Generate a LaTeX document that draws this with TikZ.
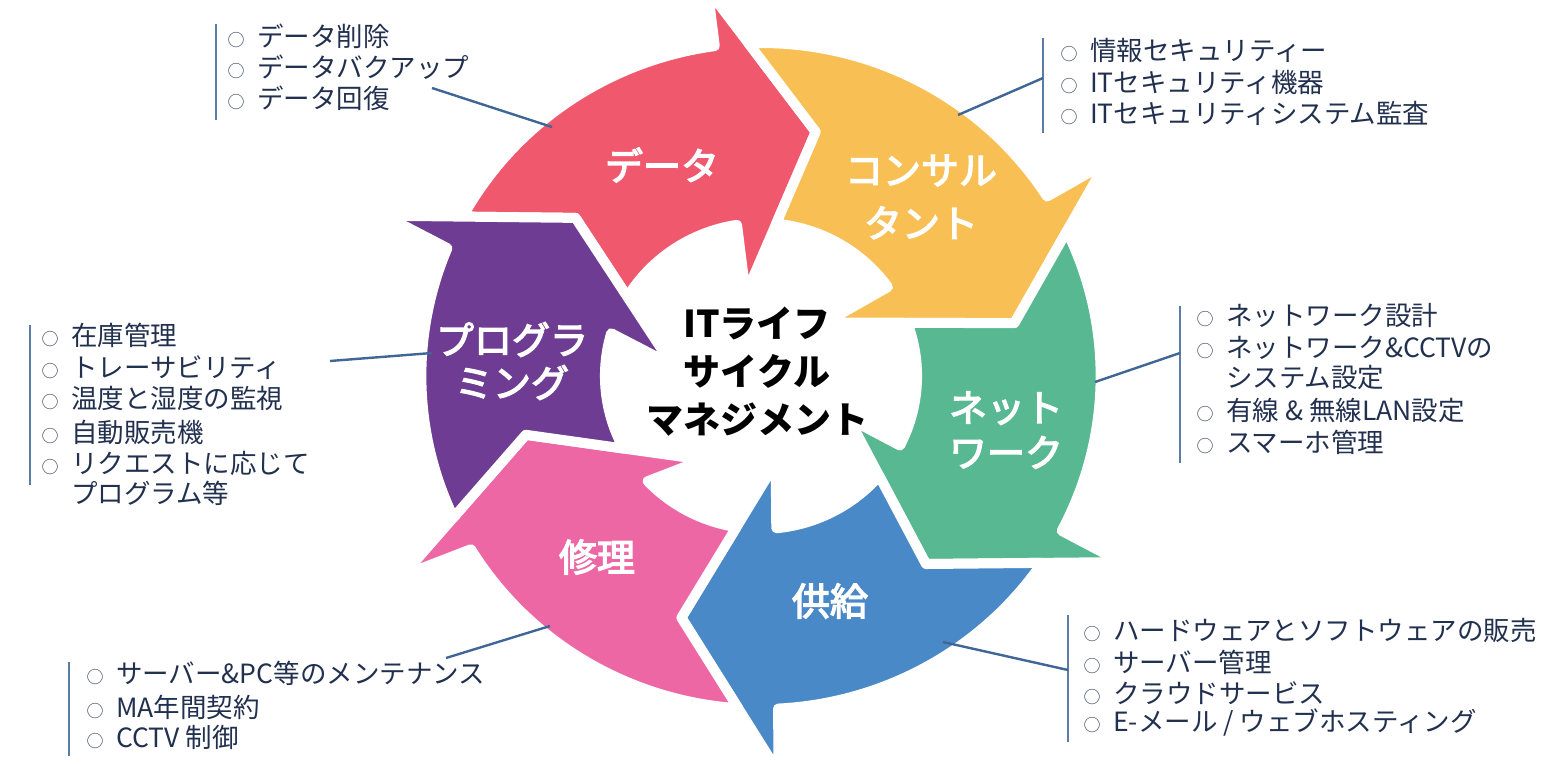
\documentclass[tikz,border=0pt]{standalone}
\usepackage{fontspec}
\setmainfont{Noto Sans CJK JP}
\newfontfamily\labfont{Noto Sans CJK JP}[FakeBold=3.5]
\definecolor{cred}{HTML}{F0586E}
\definecolor{cyel}{HTML}{F8BF55}
\definecolor{cgrn}{HTML}{58B891}
\definecolor{cblu}{HTML}{4A89C8}
\definecolor{cpnk}{HTML}{EC67A4}
\definecolor{cpur}{HTML}{6E3C92}
\definecolor{navy}{HTML}{22304F}
\definecolor{bulc}{HTML}{3E4862}
\definecolor{leadc}{HTML}{3F6696}
\definecolor{barc}{HTML}{5A7DA6}
% angle of the point where the line (#1:#2)--(#3:#4) meets the circle of radius #5
\newcommand\lineCircle[6]{%
  \pgfmathsetmacro\lcR{(#2)/100}%
  \pgfmathsetmacro\lcQ{(#4)/100}%
  \pgfmathsetmacro\lcC{(#5)/100}%
  \pgfmathsetmacro\lcdx{\lcQ*cos((#3)-(#1))-\lcR}%
  \pgfmathsetmacro\lcdy{\lcQ*sin((#3)-(#1))}%
  \pgfmathsetmacro\lcA{\lcdx*\lcdx+\lcdy*\lcdy}%
  \pgfmathsetmacro\lcB{2*\lcR*\lcdx}%
  \pgfmathsetmacro\lcK{\lcR*\lcR-\lcC*\lcC}%
  \pgfmathsetmacro\lcT{(-\lcB+(#6)*sqrt(\lcB*\lcB-4*\lcA*\lcK))/(2*\lcA)}%
  \pgfmathsetmacro\lcang{(#1)+atan2(\lcT*\lcdy,\lcR+\lcT*\lcdx)}}
% arrow data: id, tip angle, tip radius, outer wing angle, radius, inner wing angle, radius
\newcommand\defarrow[7]{%
  \expandafter\def\csname aT#1\endcsname{#2}%
  \expandafter\def\csname aRt#1\endcsname{#3}%
  \expandafter\def\csname aO#1\endcsname{#4}%
  \expandafter\def\csname aRo#1\endcsname{#5}%
  \expandafter\def\csname aI#1\endcsname{#6}%
  \expandafter\def\csname aRi#1\endcsname{#7}}
\defarrow{red}{77.6}{250}{97.7}{390}{100.4}{83}
\defarrow{yel}{12.0}{254}{32.2}{399}{40.2}{83}
\defarrow{grn}{-49.3}{248}{-27.8}{399}{-26.3}{96}
\defarrow{blu}{-107.9}{254}{-87.5}{397}{-80.6}{88}
\defarrow{pnk}{194.3}{238}{209.6}{404}{236.0}{101}
\defarrow{pur}{139.0}{241}{156.5}{402}{172.7}{88}
% #1 this arrow, #2 the arrow whose head enters this tail, #3 colour
\newcommand\ringarrow[3]{%
  \edef\myT{\csname aT#1\endcsname}\edef\myRt{\csname aRt#1\endcsname}%
  \edef\myO{\csname aO#1\endcsname}\edef\myRo{\csname aRo#1\endcsname}%
  \edef\myI{\csname aI#1\endcsname}\edef\myRi{\csname aRi#1\endcsname}%
  \edef\pvT{\csname aT#2\endcsname}\edef\pvRt{\csname aRt#2\endcsname}%
  \edef\pvO{\csname aO#2\endcsname}\edef\pvRo{\csname aRo#2\endcsname}%
  \edef\pvI{\csname aI#2\endcsname}\edef\pvRi{\csname aRi#2\endcsname}%
  \pgfmathsetmacro\pvS{ifthenelse(\pvT<\myT,360,0)}%
  \pgfmathsetmacro\pvT{\pvT+\pvS}%
  \pgfmathsetmacro\pvO{\pvO+\pvS}%
  \pgfmathsetmacro\pvI{\pvI+\pvS}%
  \lineCircle{\myO}{\myRo}{\myI}{\myRi}{333}{-1}\let\soA\lcang
  \lineCircle{\myI}{\myRi}{\myO}{\myRo}{153}{1}\let\siA\lcang
  \lineCircle{\pvT}{\pvRt}{\pvO}{\pvRo}{333}{1}\let\coA\lcang
  \lineCircle{\pvT}{\pvRt}{\pvI}{\pvRi}{153}{-1}\let\ciA\lcang
  \filldraw[fill=#3, draw=white, line width=10pt, line join=round]
    (\myT:\myRt) -- (\myO:\myRo) -- (\soA:333)
    arc[start angle=\soA, end angle=\coA, radius=333]
    -- (\pvT:\pvRt) -- (\ciA:153)
    arc[start angle=\ciA, end angle=\siA, radius=153]
    -- (\myI:\myRi) -- cycle;}
\newcommand\bl{\makebox[29.5pt][l]{\fontsize{17}{17}\selectfont\textcolor{bulc}{○}}}
\newcommand\blx{\makebox[29.5pt][l]{}}
\begin{document}
\begin{tikzpicture}[x=1pt,y=-1pt,
  li/.style={anchor=west, inner sep=0pt, text=navy, font=\fontsize{26.5}{26.5}\selectfont},
  lab/.style={text=white, align=center, inner sep=0pt},
  barline/.style={draw=barc, line width=2.6pt},
  leader/.style={draw=leadc, line width=2.4pt}]
\useasboundingbox (0,0) rectangle (1548,764);
\begin{scope}[shift={(761,376)}, xscale=1.02, yscale=-1]
  \ringarrow{red}{pur}{cred}
  \ringarrow{yel}{red}{cyel}
  \ringarrow{grn}{yel}{cgrn}
  \ringarrow{blu}{grn}{cblu}
  \ringarrow{pnk}{blu}{cpnk}
  \ringarrow{pur}{pnk}{cpur}
\end{scope}
% arrow labels
\node[lab, font={\labfont\fontsize{38}{53}\selectfont}] (tdata) at (662,165) {データ};
\node[lab, font={\labfont\fontsize{38}{53}\selectfont}] (tcons) at (921,197) {コンサル\\タント};
\node[lab, font={\labfont\fontsize{38}{45}\selectfont}] (tnet) at (1006,430) {ネット\\ワーク};
\node[lab, font={\labfont\fontsize{38}{45}\selectfont}] (tsup) at (830,601) {供給};
\node[lab, font={\labfont\fontsize{38}{45}\selectfont}] (trep) at (597,557) {修理};
\node[lab, font={\labfont\fontsize{38}{43}\selectfont}] (tprog) at (512,361) {プログラ\\ミング};
% centre
\node[align=center, inner sep=0pt, font={\bfseries\fontsize{37}{48}\selectfont}] (center) at (757,372) {ITライフ\\サイクル\\マネジメント};
% bars
\coordinate (b1t) at (216,24);   \coordinate (b1b) at (216,120);
\coordinate (b2t) at (1043,38);  \coordinate (b2b) at (1043,133);
\coordinate (b3t) at (1180,306); \coordinate (b3b) at (1180,463);
\coordinate (b4t) at (1068,615); \coordinate (b4b) at (1068,742);
\coordinate (b5t) at (69,662);   \coordinate (b5b) at (69,756);
\coordinate (b6t) at (30,325);   \coordinate (b6b) at (30,485);
\draw[barline] (b1t) -- (b1b);
\draw[barline] (b2t) -- (b2b);
\draw[barline] (b3t) -- (b3b);
\draw[barline] (b4t) -- (b4b);
\draw[barline] (b5t) -- (b5b);
\draw[barline] (b6t) -- (b6b);
% leaders
\coordinate (l1a) at (432,88);   \coordinate (l1b) at (552,127);
\coordinate (l2a) at (1043,78);  \coordinate (l2b) at (958,115);
\coordinate (l3a) at (1180,353); \coordinate (l3b) at (1095,382);
\coordinate (l4a) at (1068,670); \coordinate (l4b) at (943,642);
\coordinate (l5a) at (446,658);  \coordinate (l5b) at (550,626);
\coordinate (l6a) at (330,361);  \coordinate (l6b) at (432,353);
\draw[leader] (l1a) -- (l1b);
\draw[leader] (l2a) -- (l2b);
\draw[leader] (l3a) -- (l3b);
\draw[leader] (l4a) -- (l4b);
\draw[leader] (l5a) -- (l5b);
\draw[leader] (l6a) -- (l6b);
% block 1
\node[li] (a1) at (227.5,36) {\bl データ削除};
\node[li] (a2) at (227.5,67) {\bl データバクアップ};
\node[li] (a3) at (227.5,98) {\bl データ回復};
% block 2
\node[li] (c1) at (1060.5,50) {\bl 情報セキュリティー};
\node[li] (c2) at (1060.5,82) {\bl ITセキュリティ機器};
\node[li] (c3) at (1060.5,113) {\bl ITセキュリティシステム監査};
% block 3
\node[li] (n1) at (1196.5,315) {\bl ネットワーク設計};
\node[li] (n2) at (1196.5,348) {\bl ネットワーク\&CCTVの};
\node[li] (n3) at (1196.5,377) {\blx システム設定};
\node[li] (n4) at (1196.5,410) {\bl 有線 \& 無線LAN設定};
\node[li] (n5) at (1196.5,442) {\bl スマーホ管理};
% block 4
\node[li] (s1) at (1083.5,630) {\bl ハードウェアとソフトウェアの販売};
\node[li] (s2) at (1083.5,662) {\bl サーバー管理};
\node[li] (s3) at (1083.5,693) {\bl クラウドサービス};
\node[li] (s4) at (1083.5,723) {\bl E-メール / ウェブホスティング};
% block 5
\node[li] (r1) at (86.5,673) {\bl サーバー\&PC等のメンテナンス};
\node[li] (r2) at (86.5,707) {\bl MA年間契約};
\node[li] (r3) at (86.5,737) {\bl CCTV 制御};
% block 6
\node[li] (p1) at (41.5,335) {\bl 在庫管理};
\node[li] (p2) at (41.5,368) {\bl トレーサビリティ};
\node[li] (p3) at (41.5,398) {\bl 温度と湿度の監視};
\node[li] (p4) at (41.5,432) {\bl 自動販売機};
\node[li] (p5) at (41.5,463) {\bl リクエストに応じて};
\node[li] (p6) at (41.5,493) {\blx プログラム等};
\end{tikzpicture}
\end{document}
